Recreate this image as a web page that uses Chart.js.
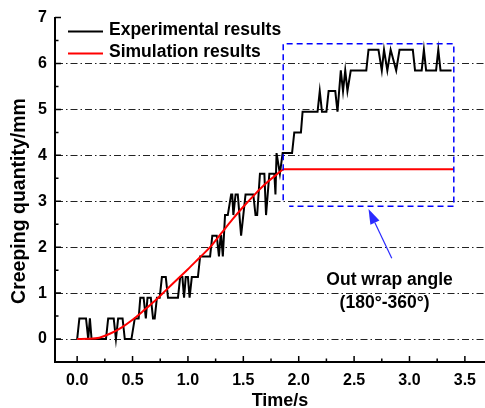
<!DOCTYPE html>
<html>
<head>
<meta charset="utf-8">
<script src="https://cdn.jsdelivr.net/npm/chart.js@4.4.0/dist/chart.umd.min.js"></script>
<style>
  html, body { margin: 0; padding: 0; background: #fff; }
  #wrap { width: 485px; height: 408px; position: relative; }
</style>
</head>
<body>
<div id="wrap"><canvas id="chart"></canvas></div>
<script>
// measured curve (quantised in ~0.45 mm steps)
const expTime = [
  0, 0.02, 0.08, 0.10, 0.115, 0.13, 0.26, 0.28, 0.33, 0.35, 0.37, 0.41, 0.43, 0.49,
  0.52, 0.555, 0.57, 0.60, 0.62, 0.635, 0.665, 0.685, 0.70, 0.72, 0.745, 0.765, 0.80,
  0.82, 0.91, 0.93, 0.95, 0.965, 0.98, 1.0, 1.015, 1.035, 1.09, 1.11, 1.20, 1.22, 1.26,
  1.28, 1.295, 1.30, 1.315, 1.335, 1.36, 1.39, 1.40, 1.41, 1.43, 1.45, 1.48, 1.52, 1.59,
  1.61, 1.625, 1.65, 1.69, 1.705, 1.735, 1.78, 1.79, 1.80, 1.83, 1.855, 1.94, 1.96, 2.02,
  2.035, 2.17, 2.19, 2.21, 2.25, 2.27, 2.33, 2.35, 2.38, 2.40, 2.42, 2.44, 2.47, 2.61,
  2.63, 2.72, 2.75, 2.77, 2.80, 2.83, 2.88, 2.91, 3.03, 3.05, 3.11, 3.13, 3.15, 3.24,
  3.26, 3.28, 3.38
];
const expCreep = [
  0, 0.45, 0.45, 0, 0.45, 0, 0, 0.45, 0.45, 0, 0.45, 0.45, 0, 0,
  0.45, 0.45, 0.9, 0.9, 0.45, 0.9, 0.9, 0.45, 0.45, 0.9, 0.9, 1.35, 1.35,
  0.9, 0.9, 1.35, 1.35, 0.9, 1.35, 1.35, 0.9, 1.35, 1.35, 1.8, 1.8, 2.25, 2.25,
  1.8, 2.25, 2.25, 1.8, 2.7, 2.7, 3.15, 3.15, 2.7, 3.15, 3.15, 2.25, 3.15, 3.15,
  2.7, 2.7, 3.6, 3.6, 2.7, 3.6, 3.6, 3.15, 4.05, 3.6, 4.05, 4.05, 4.5, 4.5,
  4.95, 4.95, 5.4, 4.95, 4.95, 5.4, 5.4, 4.95, 5.85, 5.4, 5.85, 5.4, 5.85, 5.85,
  6.3, 6.3, 5.85, 6.3, 5.85, 6.3, 5.85, 6.3, 6.3, 5.85, 5.85, 6.3, 5.85, 5.85,
  6.3, 5.85, 5.85
];

// simulated curve
const simTime  = [0, 0.1, 0.2, 0.3, 0.4, 0.5, 0.6, 0.7, 0.8, 0.9, 1.0, 1.1, 1.2, 1.3, 1.4, 1.5, 1.6, 1.7, 1.8, 1.87, 3.4];
const simCreep = [0, 0.005, 0.03, 0.12, 0.25, 0.42, 0.62, 0.83, 1.06, 1.29, 1.52, 1.76, 2.0, 2.3, 2.6, 2.88, 3.14, 3.38, 3.58, 3.7, 3.7];

const xTicks = [0, 0.5, 1.0, 1.5, 2.0, 2.5, 3.0, 3.5];
const yTicks = [0, 1, 2, 3, 4, 5, 6, 7];
const gridLevels = [0, 1, 2, 3, 4, 5, 6];

// annotation: dashed region, arrow and note (data coordinates)
const boxTime = [1.86, 3.40];
const boxCreep = [2.89, 6.43];
const arrowFrom = [2.84, 1.76];
const arrowTo = [2.63, 2.83];
const noteAt = [2.82, 1.28];
const noteLines = ['Out wrap angle', '(180°-360°)'];

const FONT = '"Liberation Sans", Arial, sans-serif';

const decor = {
  id: 'decor',
  afterDraw(chart) {
    const { ctx, scales: { x, y }, chartArea: a } = chart;
    ctx.save();

    // inward tick marks
    ctx.strokeStyle = '#000';
    ctx.lineWidth = 1.5;
    ctx.beginPath();
    yTicks.forEach((v) => {
      const py = y.getPixelForValue(v);
      ctx.moveTo(a.left, py); ctx.lineTo(a.left + 6, py);
      const mid = v - 0.5;
      if (mid >= y.min) {
        const pm = y.getPixelForValue(mid);
        ctx.moveTo(a.left, pm); ctx.lineTo(a.left + 3.5, pm);
      }
    });
    xTicks.forEach((v) => {
      const px = x.getPixelForValue(v);
      ctx.moveTo(px, a.bottom); ctx.lineTo(px, a.bottom - 6);
      const mid = v + 0.25;
      if (mid <= x.max) {
        const pm = x.getPixelForValue(mid);
        ctx.moveTo(pm, a.bottom); ctx.lineTo(pm, a.bottom - 3.5);
      }
    });
    ctx.stroke();

    // dashed blue region
    const bx0 = x.getPixelForValue(boxTime[0]), bx1 = x.getPixelForValue(boxTime[1]);
    const by0 = y.getPixelForValue(boxCreep[1]), by1 = y.getPixelForValue(boxCreep[0]);
    ctx.strokeStyle = '#0000ff';
    ctx.lineWidth = 1.5;
    ctx.setLineDash([6, 4]);
    ctx.beginPath();
    ctx.moveTo(bx0, by1 - 6); ctx.lineTo(bx0, by0); ctx.lineTo(bx1, by0); ctx.lineTo(bx1, by1);
    ctx.lineTo(bx0 + 6, by1);
    ctx.stroke();
    ctx.setLineDash([]);

    // arrow
    const ax0 = x.getPixelForValue(arrowFrom[0]), ay0 = y.getPixelForValue(arrowFrom[1]);
    const ax1 = x.getPixelForValue(arrowTo[0]), ay1 = y.getPixelForValue(arrowTo[1]);
    const ang = Math.atan2(ay1 - ay0, ax1 - ax0);
    const hl = 15, hw = 5;
    const bxp = ax1 - hl * Math.cos(ang), byp = ay1 - hl * Math.sin(ang);
    ctx.strokeStyle = '#2a2aff';
    ctx.fillStyle = '#2a2aff';
    ctx.lineWidth = 1.2;
    ctx.beginPath(); ctx.moveTo(ax0, ay0); ctx.lineTo(bxp, byp); ctx.stroke();
    ctx.beginPath();
    ctx.moveTo(ax1, ay1);
    ctx.lineTo(bxp + hw * Math.sin(ang), byp - hw * Math.cos(ang));
    ctx.lineTo(bxp - hw * Math.sin(ang), byp + hw * Math.cos(ang));
    ctx.closePath(); ctx.fill();

    // note
    ctx.fillStyle = '#000';
    ctx.font = 'bold 17.5px ' + FONT;
    ctx.textAlign = 'center';
    ctx.textBaseline = 'middle';
    const nx = x.getPixelForValue(noteAt[0]), ny = y.getPixelForValue(noteAt[1]);
    ctx.fillText(noteLines[0], nx, ny);
    ctx.fillText(noteLines[1], nx - 5, ny + 23);

    // legend, top left inside the plot
    const sets = [chart.data.datasets[1], chart.data.datasets[0]];
    ctx.font = 'bold 17.5px ' + FONT;
    ctx.textAlign = 'left';
    sets.forEach((ds, i) => {
      const ly = 31.5 + i * 22;
      ctx.strokeStyle = ds.borderColor;
      ctx.lineWidth = 2;
      ctx.beginPath(); ctx.moveTo(a.left + 13, ly); ctx.lineTo(a.left + 48, ly); ctx.stroke();
      ctx.fillStyle = '#000';
      ctx.fillText(ds.label, a.left + 54, ly - 1);
    });

    // axis titles
    ctx.font = 'bold 18px ' + FONT;
    ctx.textAlign = 'center';
    ctx.textBaseline = 'alphabetic';
    ctx.fillText(x.options.title.text, 280, 406);
    ctx.save();
    ctx.font = 'bold 19.5px ' + FONT;
    ctx.translate(25, 201);
    ctx.rotate(-Math.PI / 2);
    ctx.fillText(y.options.title.text, 0, 0);
    ctx.restore();

    ctx.restore();
  }
};

new Chart(document.getElementById('chart'), {
  type: 'line',
  data: {
    datasets: [
      {
        label: 'Simulation results',
        data: simTime.map((t, i) => ({ x: t, y: simCreep[i] })),
        borderColor: '#ff0000',
        borderWidth: 2,
        pointRadius: 0,
        cubicInterpolationMode: 'monotone',
        order: 0
      },
      {
        label: 'Experimental results',
        data: expTime.map((t, i) => ({ x: t, y: expCreep[i] })),
        borderColor: '#000000',
        borderWidth: 2,
        pointRadius: 0,
        tension: 0,
        order: 1
      }
    ]
  },
  options: {
    responsive: true,
    maintainAspectRatio: false,
    animation: false,
    events: [],
    layout: { padding: { left: 0, right: 0, top: 17, bottom: 0 } },
    plugins: { legend: { display: false }, tooltip: { enabled: false } },
    scales: {
      x: {
        type: 'linear',
        min: -0.2,
        max: 3.675,
        afterBuildTicks: (s) => { s.ticks = xTicks.map((v) => ({ value: v })); },
        afterFit: (s) => { s.height = 46; },
        grid: { display: false, drawTicks: false },
        border: { display: true, color: '#000', width: 2 },
        ticks: {
          padding: 9,
          color: '#000',
          font: { family: FONT, size: 16, weight: 'bold' },
          callback: (v) => Number(v).toFixed(1),
          maxRotation: 0
        },
        title: { display: false, text: 'Time/s' }
      },
      y: {
        type: 'linear',
        min: -0.5,
        max: 7,
        afterBuildTicks: (s) => { s.ticks = yTicks.map((v) => ({ value: v })); },
        afterFit: (s) => { s.width = 55; },
        grid: {
          drawTicks: false,
          lineWidth: 1,
          color: (c) => (c.tick && gridLevels.includes(c.tick.value)) ? '#222' : 'rgba(0,0,0,0)'
        },
        border: { display: true, color: '#000', width: 2, dash: [7, 3, 1.5, 3] },
        ticks: {
          padding: 8,
          color: '#000',
          font: { family: FONT, size: 16, weight: 'bold' },
          callback: (v) => String(v)
        },
        title: { display: false, text: 'Creeping quantity/mm' }
      }
    }
  },
  plugins: [decor]
});
</script>
</body>
</html>
